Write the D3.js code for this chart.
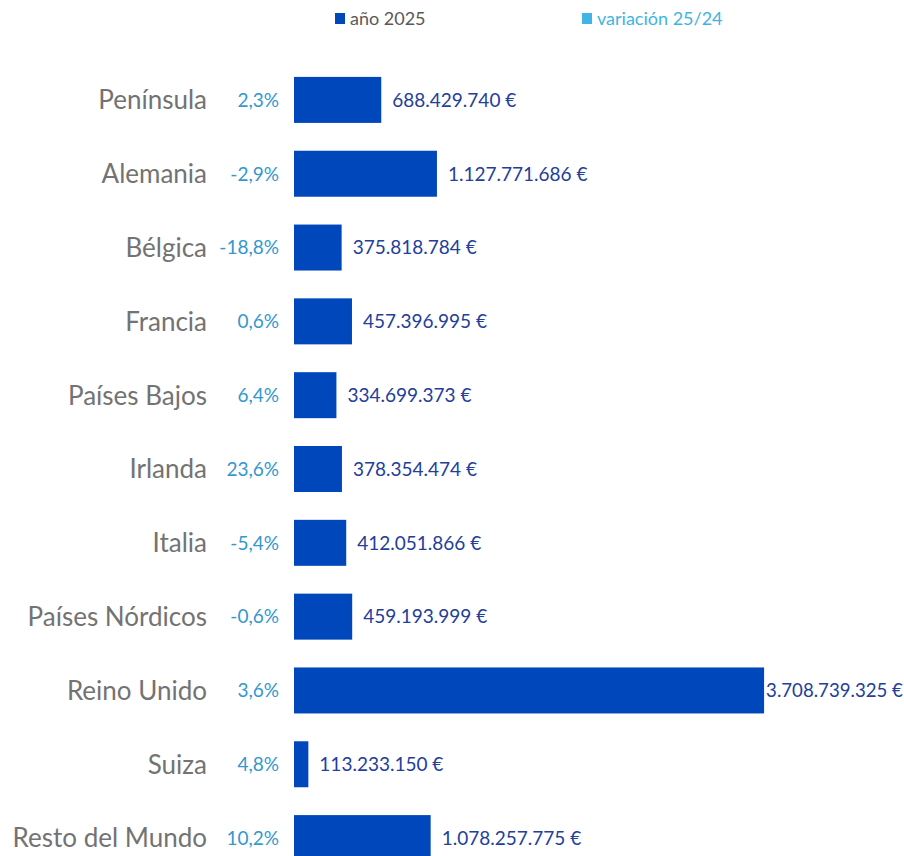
<!DOCTYPE html>
<html lang="es">
<head>
<meta charset="utf-8">
<script src="https://cdn.jsdelivr.net/npm/d3@7"></script>
<style>
  html, body { margin: 0; padding: 0; background: #ffffff; }
  svg { display: block; font-family: Lato, "Open Sans", sans-serif; }
</style>
</head>
<body>
<svg id="chart" width="904" height="856"></svg>
<script>
// Mercados emisores: gasto turístico año 2025 y variación sobre 2024
const categories = [
  "Península", "Alemania", "Bélgica", "Francia", "Países Bajos", "Irlanda",
  "Italia", "Países Nórdicos", "Reino Unido", "Suiza", "Resto del Mundo"
];
const gasto2025 = [
  688429740, 1127771686, 375818784, 457396995, 334699373, 378354474,
  412051866, 459193999, 3708739325, 113233150, 1078257775
];
const variacion = [2.3, -2.9, -18.8, 0.6, 6.4, 23.6, -5.4, -0.6, 3.6, 4.8, 10.2];
const legendLabels = ["año 2025", "variación 25/24"];

const W = 904, H = 856;
const colBar = "#0047BB";
const colVar = "#41B4E5";
const colValue = "#22409A";
const colPct = "#3398CE";
const colCat = "#737373";

const locale = d3.formatLocale({ decimal: ",", thousands: ".", grouping: [3], currency: ["", " €"] });
const fmtEuro = v => locale.format(",.0f")(v) + " €";
const fmtPct = v => locale.format(".1f")(v).replace("−", "-") + "%";

const svg = d3.select("#chart");

const x = d3.scaleLinear().domain([0, 4000e6]).range([294, 801]);
const y = d3.scaleBand().domain(categories).range([63, 875])
  .paddingInner(0.377).paddingOuter(0.1885);

const rows = categories.map((c, i) => ({ c, v: gasto2025[i], p: variacion[i] }));

// Barras
svg.append("g").selectAll("rect").data(rows).join("rect")
  .attr("x", x(0))
  .attr("y", d => y(d.c))
  .attr("width", d => x(d.v) - x(0))
  .attr("height", y.bandwidth())
  .attr("fill", colBar);

// Nombres de mercado
svg.append("g").selectAll("text").data(rows).join("text")
  .attr("x", 207)
  .attr("y", d => y(d.c) + y.bandwidth() / 2)
  .attr("dy", "0.36em")
  .attr("text-anchor", "end")
  .attr("font-size", 26)
  .attr("fill", colCat)
  .text(d => d.c);

// Variación porcentual
svg.append("g").selectAll("text").data(rows).join("text")
  .attr("x", 279)
  .attr("y", d => y(d.c) + y.bandwidth() / 2)
  .attr("dy", "0.36em")
  .attr("text-anchor", "end")
  .attr("font-size", 19)
  .attr("fill", colPct)
  .text(d => fmtPct(d.p));

// Importe en euros junto a cada barra; si no cabe, se acerca a la barra y se reduce
const valueSize = 19;
svg.append("g").selectAll("text").data(rows).join("text")
  .attr("y", d => y(d.c) + y.bandwidth() / 2)
  .attr("dy", "0.36em")
  .attr("font-size", valueSize)
  .attr("fill", colValue)
  .text(d => fmtEuro(d.v))
  .each(function (d) {
    const el = d3.select(this);
    const w = this.getComputedTextLength();
    const end = x(d.v);
    let px = end + 11;
    if (px + w > W - 1) {
      px = Math.max(end + 2, W - 1 - w);
      const avail = W - 1 - px;
      if (w > avail) el.attr("font-size", valueSize * avail / w);
    }
    el.attr("x", px);
  });

// Leyenda
const leg = svg.append("g");
const legItems = [
  { label: legendLabels[0], sq: colBar, tx: "#595959", x: 335 },
  { label: legendLabels[1], sq: colVar, tx: colVar, x: 582 }
];
legItems.forEach(it => {
  leg.append("rect").attr("x", it.x).attr("y", 13).attr("width", 10).attr("height", 11).attr("fill", it.sq);
  leg.append("text").attr("x", it.x + 15).attr("y", 25).attr("font-size", 18)
    .attr("fill", it.tx).text(it.label);
});
</script>
</body>
</html>
